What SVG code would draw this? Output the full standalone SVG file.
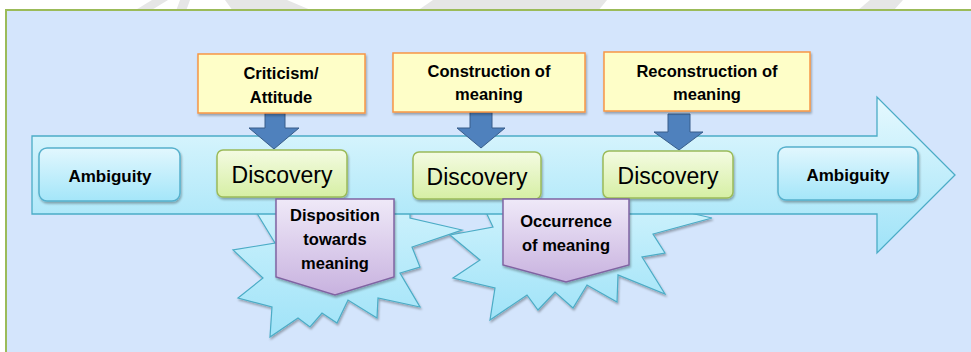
<svg xmlns="http://www.w3.org/2000/svg" width="971" height="352" viewBox="0 0 971 352">
  <defs>
    <linearGradient id="gArrow" x1="0" y1="0" x2="0" y2="1">
      <stop offset="0" stop-color="#e6f9fe"/>
      <stop offset="1" stop-color="#9fe3f8"/>
    </linearGradient>
    <linearGradient id="gBurst" x1="0" y1="0" x2="0" y2="1">
      <stop offset="0" stop-color="#cbf1fc"/>
      <stop offset="1" stop-color="#a0e3f8"/>
    </linearGradient>
    <linearGradient id="gAmb" x1="0" y1="0" x2="0" y2="1">
      <stop offset="0" stop-color="#e2f7fe"/>
      <stop offset="1" stop-color="#a4e6f9"/>
    </linearGradient>
    <linearGradient id="gDisc" x1="0" y1="0" x2="0" y2="1">
      <stop offset="0" stop-color="#f4fbe2"/>
      <stop offset="1" stop-color="#d6efa4"/>
    </linearGradient>
    <linearGradient id="gPurple" x1="0" y1="0" x2="0" y2="1">
      <stop offset="0" stop-color="#efe9f8"/>
      <stop offset="1" stop-color="#c8b2df"/>
    </linearGradient>
    <filter id="shadow" x="-10%" y="-10%" width="125%" height="130%">
      <feDropShadow dx="1" dy="2" stdDeviation="1.3" flood-color="#000" flood-opacity="0.3"/>
    </filter>
    <style>
      .lbl { font-family: "Liberation Sans", Arial, sans-serif; font-weight: bold; font-size: 16.5px; fill: #000; text-anchor: middle; }
      .big { font-size: 17px; }
      .disc { font-family: "Liberation Sans", Arial, sans-serif; font-size: 23px; fill: #000; text-anchor: middle; }
      .yellow { fill: #fefec8; stroke: #f79646; stroke-width: 1.5; filter: url(#shadow); }
      .down { fill: #4f81bd; stroke: #385d8a; stroke-width: 1; }
      .amb { fill: url(#gAmb); stroke: #56b0cc; stroke-width: 1.5; filter: url(#shadow); }
      .dsc { fill: url(#gDisc); stroke: #9bbb59; stroke-width: 1.5; filter: url(#shadow); }
      .pent { fill: url(#gPurple); stroke: #8064a2; stroke-width: 1.5; filter: url(#shadow); }
      .burst { fill: url(#gBurst); stroke: #4bacc6; stroke-width: 1.2; filter: url(#shadow); }
    </style>
  </defs>

  <!-- page background with faint watermark strokes -->
  <rect x="0" y="0" width="971" height="352" fill="#ffffff"/>
  <g fill="#e6e6e6">
    <polygon points="152,0 168,0 150,11 134,11"/>
    <polygon points="180,0 190,0 186,11 176,11"/>
    <polygon points="225,0 287,0 313,11 233,11"/>
    <polygon points="433,0 607,0 598,11 417,11"/>
    <polygon points="870,0 903,0 893,11 857,11"/>
  </g>

  <!-- panel -->
  <rect x="6" y="10" width="980" height="360" fill="#d4e5fc" stroke="#9bbb59" stroke-width="2"/>

  <!-- explosion shapes behind the main arrow -->
  <g id="burst1">
    <polygon class="burst" points="255,210 275,243 233,250 263,278 238,298 272,307 270,337 298,318 310,327 322,313 337,323 348,300 377,318 378,298 420,307 400,273 420,267 412,247 462,230 410,218 410,210"/>
  </g>
  <g id="burst2">
    <polygon class="burst" points="485,210 493,227 450,235 480,260 453,278 495,288 490,320 527,295 538,310 555,292 573,308 587,285 617,302 618,275 665,294 642,257 665,253 653,234 712,218 677,210"/>
  </g>

  <!-- main block arrow -->
  <g id="timeline">
    <path d="M32,136 H877 V97 L955,175 L877,253 V214 H32 Z" fill="url(#gArrow)" stroke="#4bacc6" stroke-width="1.3"/>
  </g>

  <!-- connectors: down arrows from the yellow boxes -->
  <g id="connectors">
    <polygon class="down" points="265,113 285,113 285,128 299,128 274,149 249,128 265,128"/>
    <polygon class="down" points="470,112 492,112 492,128 505,128 481,148 457,128 470,128"/>
    <polygon class="down" points="668,114 690,114 690,132 703,132 679,150 654,132 668,132"/>
  </g>

  <g id="criticism">
    <rect class="yellow" x="198" y="54" width="167" height="59"/>
    <text class="lbl" x="281" y="79">Criticism/</text>
    <text class="lbl" x="281" y="103">Attitude</text>
  </g>
  <g id="construction">
    <rect class="yellow" x="393" y="53" width="192" height="59"/>
    <text class="lbl" x="489" y="77">Construction of</text>
    <text class="lbl" x="489" y="100">meaning</text>
  </g>
  <g id="reconstruction">
    <rect class="yellow" x="604" y="52" width="206" height="59"/>
    <text class="lbl" x="707" y="77">Reconstruction of</text>
    <text class="lbl" x="707" y="100">meaning</text>
  </g>

  <g id="ambiguity-start">
    <rect class="amb" x="39" y="148" width="141" height="53" rx="8"/>
    <text class="lbl big" x="110" y="182">Ambiguity</text>
  </g>
  <g id="discovery1">
    <rect class="dsc" x="217" y="150" width="130" height="47" rx="6"/>
    <text class="disc" x="282" y="183">Discovery</text>
  </g>
  <g id="discovery2">
    <rect class="dsc" x="413" y="152" width="128" height="47" rx="6"/>
    <text class="disc" x="477" y="185">Discovery</text>
  </g>
  <g id="discovery3">
    <rect class="dsc" x="603" y="151" width="130" height="47" rx="6"/>
    <text class="disc" x="668" y="184">Discovery</text>
  </g>
  <g id="ambiguity-end">
    <rect class="amb" x="778" y="147" width="140" height="53" rx="8"/>
    <text class="lbl big" x="848" y="181">Ambiguity</text>
  </g>

  <g id="disposition">
    <path class="pent" d="M276,199 H394 V277 L335,295 L276,277 Z"/>
    <text class="lbl" x="335" y="221">Disposition</text>
    <text class="lbl" x="335" y="245">towards</text>
    <text class="lbl" x="335" y="269">meaning</text>
  </g>
  <g id="occurrence">
    <path class="pent" d="M503,199 H629 V265 L566,282 L503,265 Z"/>
    <text class="lbl" x="566" y="227">Occurrence</text>
    <text class="lbl" x="566" y="251">of meaning</text>
  </g>
</svg>
